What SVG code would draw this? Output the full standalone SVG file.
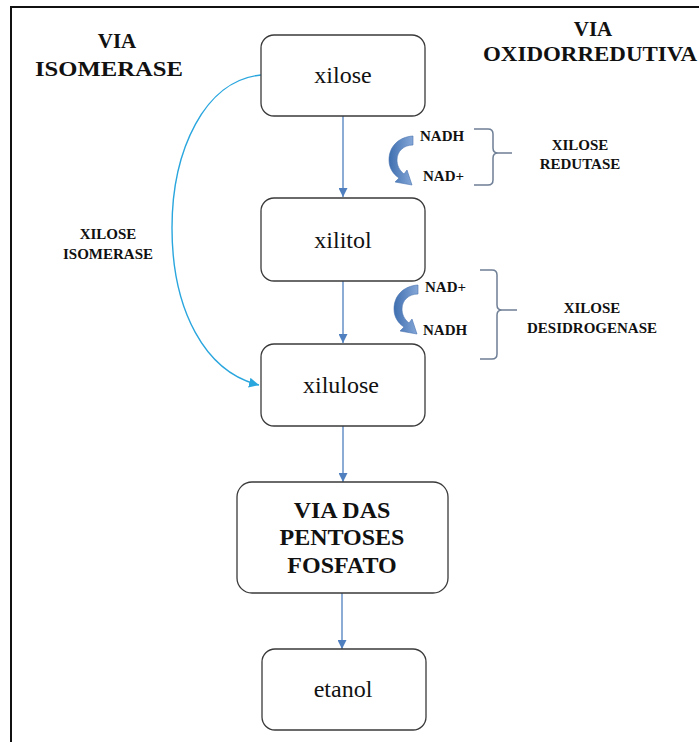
<svg xmlns="http://www.w3.org/2000/svg" width="699" height="742" viewBox="0 0 699 742" font-family="'Liberation Serif', 'DejaVu Serif', serif">
  <defs>
    <style>
      text { font-family: 'Liberation Serif', 'DejaVu Serif', serif; }
      .box { fill: #ffffff; stroke: #3a3a3a; stroke-width: 1.3; }
      .node { font-size: 24px; fill: #111; text-anchor: middle; }
      .title { font-size: 21px; font-weight: bold; fill: #111; text-anchor: middle; }
      .lbl { font-size: 15px; font-weight: bold; fill: #111; }
      .enz { font-size: 15px; font-weight: bold; fill: #111; text-anchor: middle; }
      .flow { stroke: #4f7fbf; stroke-width: 1.3; fill: none; }
      .iso { stroke: #2aa6de; stroke-width: 1.4; fill: none; }
      .brace { stroke: #6f7f96; stroke-width: 1.5; fill: none; }
      .cofactor { fill: url(#cofGrad); stroke: #4a74b0; stroke-width: 0.6; }
    </style>
    <marker id="arrFlow" viewBox="0 0 10 10" refX="10" refY="5" markerWidth="9" markerHeight="9" markerUnits="userSpaceOnUse" orient="auto">
      <path d="M0,0 L10,5 L0,10 Z" fill="#4f7fbf"/>
    </marker>
    <marker id="arrIso" viewBox="0 0 10 10" refX="10" refY="5" markerWidth="10" markerHeight="10" markerUnits="userSpaceOnUse" orient="auto">
      <path d="M0,0 L10,5 L0,10 Z" fill="#2aa6de"/>
    </marker>
    <linearGradient id="cofGrad" x1="0" y1="0" x2="1" y2="0">
      <stop offset="0" stop-color="#3f6fb0"/>
      <stop offset="1" stop-color="#86a8d8"/>
    </linearGradient>
    <!-- curved block arrow for cofactor exchange -->
    <path id="cofArrow" d="M413,136 C398,137 389,147 389,160 C389,168 393,174 399,178 L395,182 L412,185 L407,170 L404,174 C399,170 397,165 397,160 C397,151 404,145 413,145 Z"/>
  </defs>

  <rect width="699" height="742" fill="#ffffff"/>
  <!-- outer frame -->
  <rect x="11" y="7" width="700" height="750" fill="none" stroke="#111" stroke-width="2"/>

  <!-- pathway headings -->
  <g id="heading-isomerase">
    <text class="title" x="117" y="48">VIA</text>
    <text class="title" x="109" y="76" textLength="148" lengthAdjust="spacingAndGlyphs">ISOMERASE</text>
  </g>
  <g id="heading-oxidorredutiva">
    <text class="title" x="593" y="36">VIA</text>
    <text class="title" x="590" y="61" textLength="214" lengthAdjust="spacingAndGlyphs">OXIDORREDUTIVA</text>
  </g>

  <!-- connectors -->
  <g id="connectors">
    <line class="flow" x1="343" y1="116" x2="343" y2="197" marker-end="url(#arrFlow)"/>
    <line class="flow" x1="343" y1="281" x2="343" y2="343" marker-end="url(#arrFlow)"/>
    <line class="flow" x1="343" y1="426" x2="343" y2="482" marker-end="url(#arrFlow)"/>
    <line class="flow" x1="342" y1="593" x2="342" y2="649" marker-end="url(#arrFlow)"/>
    <path class="iso" d="M261,75 C205,80 172,150 172,228 C172,310 205,372 259,385" marker-end="url(#arrIso)"/>
  </g>

  <!-- nodes -->
  <g id="node-xilose">
    <rect class="box" x="261" y="35" width="164" height="81" rx="13"/>
    <text class="node" x="343" y="83">xilose</text>
  </g>
  <g id="node-xilitol">
    <rect class="box" x="261" y="198" width="164" height="83" rx="13"/>
    <text class="node" x="343" y="248">xilitol</text>
  </g>
  <g id="node-xilulose">
    <rect class="box" x="261" y="344" width="164" height="82" rx="13"/>
    <text class="node" x="341" y="393">xilulose</text>
  </g>
  <g id="node-pentoses">
    <rect class="box" x="237" y="482" width="211" height="111" rx="15"/>
    <text class="node" font-weight="bold" font-size="23" x="342" y="518">VIA DAS</text>
    <text class="node" font-weight="bold" font-size="23" x="342" y="545">PENTOSES</text>
    <text class="node" font-weight="bold" font-size="23" x="342" y="573">FOSFATO</text>
  </g>
  <g id="node-etanol">
    <rect class="box" x="262" y="649" width="164" height="81" rx="13"/>
    <text class="node" x="343" y="697">etanol</text>
  </g>

  <!-- enzyme: xilose isomerase -->
  <g id="enzyme-isomerase">
    <text class="enz" x="108" y="239">XILOSE</text>
    <text class="enz" x="108" y="259">ISOMERASE</text>
  </g>

  <!-- enzyme: xilose redutase -->
  <g id="enzyme-redutase">
    <use href="#cofArrow" class="cofactor"/>
    <text class="lbl" x="420" y="141">NADH</text>
    <text class="lbl" x="423" y="181">NAD+</text>
    <path class="brace" d="M474,129 L488,129 Q493,129 493,134 L493,148 Q493,153 498,153 L512,153 M498,153 Q493,153 493,158 L493,180 Q493,185 488,185 L474,185"/>
    <text class="enz" x="580" y="150">XILOSE</text>
    <text class="enz" x="580" y="169">REDUTASE</text>
  </g>

  <!-- enzyme: xilose desidrogenase -->
  <g id="enzyme-desidrogenase">
    <use href="#cofArrow" class="cofactor" transform="translate(5,149)"/>
    <text class="lbl" x="425" y="292">NAD+</text>
    <text class="lbl" x="423" y="335">NADH</text>
    <path class="brace" d="M480,270 L492,270 Q497,270 497,275 L497,305 Q497,310 502,310 L517,310 M502,310 Q497,310 497,315 L497,354 Q497,359 492,359 L480,359"/>
    <text class="enz" x="592" y="313">XILOSE</text>
    <text class="enz" x="592" y="333">DESIDROGENASE</text>
  </g>
</svg>
